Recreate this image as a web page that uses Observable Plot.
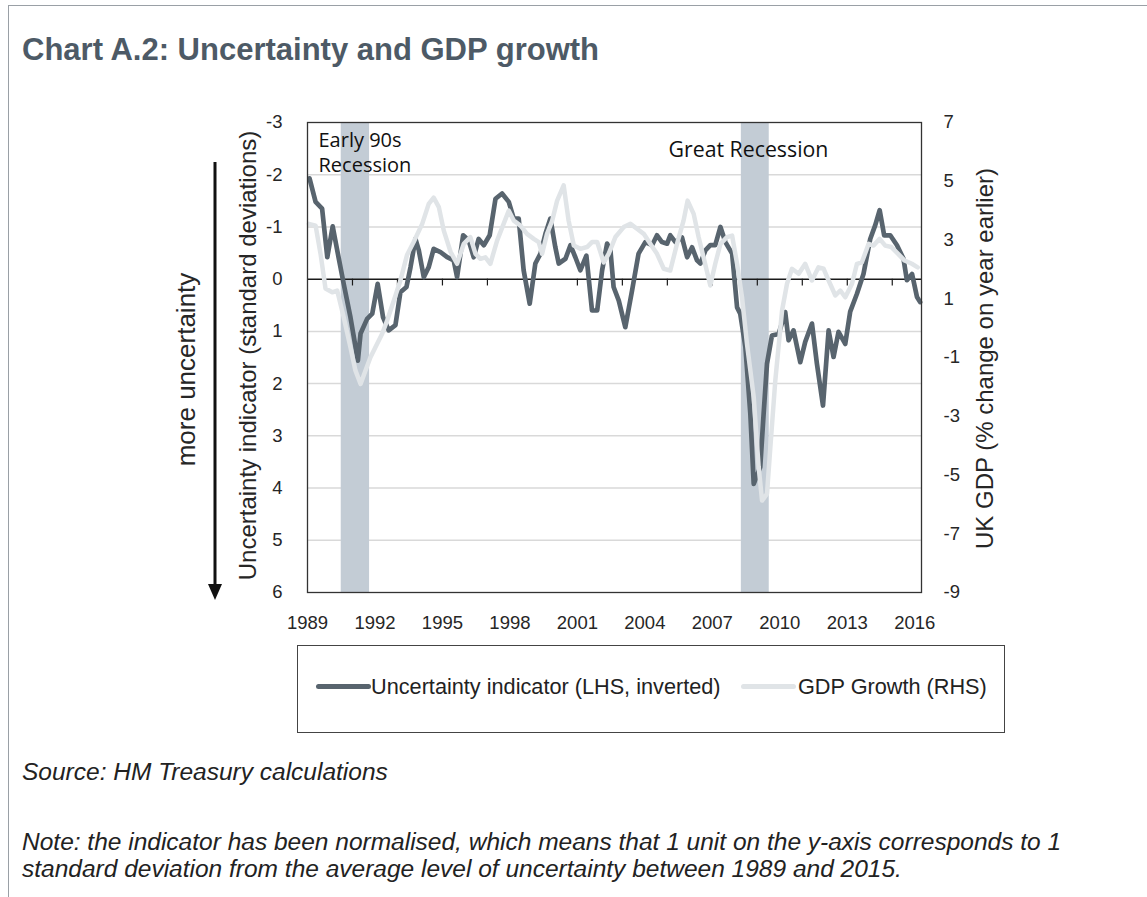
<!DOCTYPE html>
<html><head><meta charset="utf-8">
<script src="https://cdn.jsdelivr.net/npm/d3@7"></script>
<script src="https://cdn.jsdelivr.net/npm/@observablehq/plot@0.6"></script>
<style>
body{margin:0;background:#fff;font-family:"Liberation Sans",Arial,sans-serif;}
#page{position:relative;width:1147px;height:897px;overflow:hidden;background:#fff;}
#border{position:absolute;left:8px;top:5px;right:-5px;bottom:-5px;border-left:1.5px solid #9aa0a6;border-top:1.5px solid #9aa0a6;}
#title{position:absolute;left:22px;top:34px;font-weight:bold;font-size:31px;line-height:1;color:#4d5a66;white-space:nowrap;}
#chart{position:absolute;left:0;top:0;}
#legend{position:absolute;left:297px;top:645px;width:708px;height:88px;border:1.5px solid #444;box-sizing:border-box;}
.sw{position:absolute;height:5px;border-radius:2.5px;}
.lt{position:absolute;font-size:21.7px;line-height:1;color:#222;white-space:nowrap;}
.foot{position:absolute;left:22px;font-style:italic;font-size:24.5px;color:#222;white-space:nowrap;}
</style></head>
<body><div id="page">
<div id="border"></div>
<div id="title">Chart A.2: Uncertainty and GDP growth</div>
<div id="chart"></div>
<div id="legend"></div>
<div class="foot" style="top:760px;line-height:1;">Source: HM Treasury calculations</div>
<div class="foot" style="top:828px;line-height:27px;">Note: the indicator has been normalised, which means that 1 unit on the y-axis corresponds to 1<br>standard deviation from the average level of uncertainty between 1989 and 2015.</div>
</div>
<script>
// ---- data ----
const uncYear = [1989.09,1989.36,1989.65,1989.88,1990.12,1990.38,1990.61,1990.91,1991.24,1991.36,1991.65,1991.88,1992.12,1992.36,1992.61,1992.91,1993.13,1993.4,1993.58,1993.8,1993.95,1994.17,1994.39,1994.61,1994.91,1995.21,1995.5,1995.65,1995.92,1996.17,1996.39,1996.61,1996.84,1997.1,1997.36,1997.65,1997.95,1998.17,1998.39,1998.61,1998.88,1999.13,1999.36,1999.58,1999.8,2000.02,2000.17,2000.47,2000.69,2000.91,2001.13,2001.4,2001.65,2001.88,2002.1,2002.32,2002.47,2002.61,2002.84,2003.13,2003.43,2003.72,2004.02,2004.32,2004.54,2004.76,2004.99,2005.13,2005.36,2005.65,2005.88,2006.1,2006.32,2006.47,2006.69,2006.91,2007.13,2007.36,2007.58,2007.88,2008.1,2008.24,2008.47,2008.69,2008.84,2009.13,2009.28,2009.43,2009.65,2009.95,2010.24,2010.39,2010.61,2010.91,2011.13,2011.43,2011.65,2011.92,2012.17,2012.39,2012.61,2012.91,2013.13,2013.43,2013.72,2014.02,2014.24,2014.44,2014.64,2014.91,2015.21,2015.5,2015.65,2015.88,2016.1,2016.24];
const uncValue = [-1.93,-1.48,-1.35,-0.42,-1.01,-0.42,0.09,0.73,1.56,1.04,0.76,0.66,0.09,0.73,0.98,0.88,0.25,0.15,-0.23,-0.77,-0.55,-0.04,-0.23,-0.58,-0.52,-0.42,-0.36,-0.04,-0.84,-0.74,-0.42,-0.77,-0.65,-0.84,-1.54,-1.64,-1.48,-1.16,-1.16,-0.17,0.47,-0.3,-0.49,-0.87,-1.16,-0.61,-0.3,-0.39,-0.65,-0.42,-0.17,-0.45,0.6,0.6,-0.17,-0.68,-0.55,0.15,0.41,0.92,0.22,-0.49,-0.71,-0.65,-0.84,-0.71,-0.68,-0.84,-0.71,-0.8,-0.42,-0.61,-0.36,-0.3,-0.55,-0.65,-0.65,-1.0,-0.71,-0.49,0.54,0.66,1.3,2.58,3.92,3.6,2.58,1.62,1.08,1.05,0.63,1.17,0.98,1.59,1.2,0.85,1.62,2.42,0.98,1.49,1.01,1.24,0.62,0.28,-0.1,-0.77,-1.03,-1.32,-0.84,-0.84,-0.65,-0.39,0.02,-0.1,0.34,0.44];
const gdpYear = [1989.06,1989.36,1989.58,1989.8,1990.1,1990.32,1990.61,1990.91,1991.13,1991.36,1991.58,1991.8,1992.02,1992.32,1992.54,1992.84,1993.13,1993.43,1993.72,1994.1,1994.39,1994.61,1994.84,1995.06,1995.36,1995.65,1995.95,1996.24,1996.47,1996.69,1996.91,1997.13,1997.43,1997.72,1997.95,1998.17,1998.47,1998.76,1999.06,1999.28,1999.43,1999.65,1999.88,2000.1,2000.39,2000.61,2000.84,2001.13,2001.43,2001.65,2001.88,2002.17,2002.39,2002.69,2003.06,2003.36,2003.65,2003.95,2004.24,2004.54,2004.84,2005.13,2005.43,2005.72,2005.9,2006.17,2006.39,2006.61,2006.91,2007.13,2007.36,2007.65,2007.88,2008.1,2008.32,2008.54,2008.84,2009.06,2009.21,2009.43,2009.58,2009.8,2010.1,2010.32,2010.54,2010.84,2011.13,2011.43,2011.72,2011.95,2012.17,2012.47,2012.69,2012.91,2013.21,2013.43,2013.65,2013.95,2014.17,2014.44,2014.69,2014.96,2015.26,2015.55,2015.87,2016.13];
const gdpValue = [3.55,3.49,2.53,1.35,1.22,1.28,0.37,-0.65,-1.44,-1.9,-1.44,-0.99,-0.65,-0.19,0.26,0.94,1.62,2.5,2.93,3.55,4.23,4.44,4.12,3.32,2.6,2.19,2.87,3.1,2.53,2.36,2.41,2.19,2.98,3.55,4.0,3.66,3.49,3.21,3.04,2.93,2.53,3.21,3.66,4.34,4.86,3.66,2.81,2.7,2.76,2.93,2.93,2.24,2.53,3.1,3.44,3.55,3.38,3.21,2.87,2.53,2.02,1.96,2.87,3.66,4.34,3.89,3.1,2.41,1.45,2.19,2.87,3.1,3.15,2.19,1.05,-0.53,-2.35,-4.73,-5.87,-5.64,-4.05,-1.78,0.6,1.51,2.02,1.85,2.19,1.62,2.07,2.02,1.62,1.11,1.28,1.05,1.51,2.19,2.24,2.87,2.81,3.04,2.81,2.76,2.53,2.3,2.19,2.07];
const recessionStart = [1990.5, 2008.29];
const recessionEnd = [1991.76, 2009.53];
const recessionLabels = ["Early 90s\nRecession", "Great Recession"];
const xTickLabels = [1989,1992,1995,1998,2001,2004,2007,2010,2013,2016];
const zeroLineTicks = [1991,1993,1995,1997,1999,2001,2003,2005,2007,2009,2011,2013,2015];
const leftTicks = [-3,-2,-1,0,1,2,3,4,5,6];
const gridValues = [-2,-1,1,2,3,4,5];
const rightTicks = [7,5,3,1,-1,-3,-5,-7,-9];
const seriesNames = ["Uncertainty indicator (LHS, inverted)", "GDP Growth (RHS)"];
const seriesColors = ["#58646e", "#e0e4e7"];

// RHS (7 .. -9) mapped onto LHS (-3 .. 6)
const toLeft = g => -3 + (7 - g) * 9 / 16;
const fromLeft = v => 7 - (v + 3) * 16 / 9;

const unc = uncYear.map((x, i) => ({x, y: uncValue[i]}));
const gdp = gdpYear.map((x, i) => ({x, y: toLeft(gdpValue[i])}));
const rec = recessionStart.map((s, i) => ({x1: s, x2: recessionEnd[i]}));

const fontAxis = "Liberation Sans, Arial, sans-serif";
const plot = Plot.plot({
  width: 1147, height: 640,
  marginLeft: 307, marginRight: 226, marginTop: 122, marginBottom: 48,
  x: {domain: [1989, 2016.3]},
  y: {domain: [6, -3]},
  style: {fontFamily: fontAxis, fontSize: "18.5px", color: "#262626", background: "transparent", overflow: "visible"},
  marks: [
    Plot.ruleY(gridValues, {stroke: "#d9d9d9", strokeWidth: 1.5}),
    Plot.rect(rec, {x1: "x1", x2: "x2", fill: "#c3ccd5"}),
    Plot.ruleY([0], {stroke: "#1a1a1a", strokeWidth: 1.5}),
    Plot.ruleX(zeroLineTicks, {x: d => d, y1: 0, y2: 0.13, stroke: "#1a1a1a", strokeWidth: 1.2}),
    Plot.line(unc, {x: "x", y: "y", stroke: seriesColors[0], strokeWidth: 4.7, strokeLinejoin: "round", strokeLinecap: "round"}),
    Plot.line(gdp, {x: "x", y: "y", stroke: seriesColors[1], strokeWidth: 4.5, strokeLinejoin: "round", strokeLinecap: "round"}),
    Plot.frame({stroke: "#333", strokeWidth: 1.3}),
    Plot.axisY(leftTicks, {anchor: "left", tickSize: 0, tickPadding: 25, tickFormat: d => String(d), label: null}),
    Plot.axisY(rightTicks.map(toLeft), {anchor: "right", tickSize: 0, tickPadding: 22, tickFormat: v => String(Math.round(fromLeft(v))), label: null}),
    Plot.axisX(xTickLabels, {anchor: "bottom", tickSize: 0, tickPadding: 23, tickFormat: d => String(d), label: null}),
    Plot.text(["Uncertainty indicator (standard deviations)"], {text: d => d, frameAnchor: "left", dx: -59, dy: -2, rotate: -90, fontSize: 24, fill: "#262626", textAnchor: "middle", lineAnchor: "middle"}),
    Plot.text(["more uncertainty"], {text: d => d, frameAnchor: "left", dx: -121, dy: 12, rotate: -90, fontSize: 26, fill: "#262626", textAnchor: "middle", lineAnchor: "middle"}),
    Plot.text(["UK GDP (% change on year earlier)"], {text: d => d, frameAnchor: "right", dx: 64, dy: 1, rotate: -90, fontSize: 24, fill: "#262626", textAnchor: "middle", lineAnchor: "middle"}),
    Plot.text([recessionLabels[0]], {text: d => d, frameAnchor: "top-left", dx: 11, dy: 7, textAnchor: "start", lineAnchor: "top", fontSize: 20, lineHeight: 1.25, fontFamily: "Open Sans", fill: "#111"}),
    Plot.text([recessionLabels[1]], {text: d => d, frameAnchor: "top-left", dx: 361, dy: 19, textAnchor: "start", lineAnchor: "top", fontSize: 21.3, fontFamily: "Open Sans", fill: "#111"})
  ]
});
document.getElementById("chart").appendChild(plot);

// "more uncertainty" arrow (decoration)
const svg = d3.select(plot);
svg.append("line").attr("x1", 215).attr("x2", 215).attr("y1", 162).attr("y2", 586)
  .attr("stroke", "#111").attr("stroke-width", 3);
svg.append("path").attr("d", "M208,584 L222,584 L215,600 Z").attr("fill", "#111");

// legend
const lg = document.getElementById("legend");
const items = [{sw: 18, w: 55, tx: 73}, {sw: 443, w: 55, tx: 500}];
items.forEach((it, i) => {
  const s = document.createElement("div");
  s.className = "sw"; s.style.left = it.sw + "px"; s.style.width = it.w + "px"; s.style.top = "38px";
  s.style.background = seriesColors[i];
  lg.appendChild(s);
  const t = document.createElement("div");
  t.className = "lt"; t.style.left = it.tx + "px"; t.style.top = "30px";
  t.textContent = seriesNames[i];
  lg.appendChild(t);
});
</script>
</body></html>
